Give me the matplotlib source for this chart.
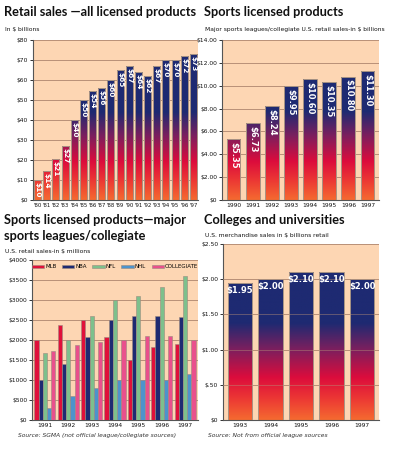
import matplotlib
matplotlib.use("Agg")
import matplotlib.pyplot as plt
import numpy as np
from matplotlib.colors import LinearSegmentedColormap

# retail sales, all licensed products ($ billions)
retail_years = ["'80", "'81", "'82", "'83", "'84", "'85", "'86", "'87", "'88",
                "'89", "'90", "'91", "'92", "'93", "'94", "'95", "'96", "'97"]
retail_values = [10, 14.5, 20.5, 27, 40, 50, 54.5, 56, 60, 65, 67, 64, 62, 67, 70, 70, 72, 73]
retail_labels = ["$10", "$14", "$21", "$27", "$40", "$50", "$54", "$56", "$60",
                 "$65", "$67", "$64", "$62", "$67", "$70", "$70", "$72", "$73"]

# sports licensed products ($ billions)
sports_years = ["1990", "1991", "1992", "1993", "1994", "1995", "1996", "1997"]
sports_values = [5.35, 6.73, 8.24, 9.95, 10.60, 10.35, 10.80, 11.30]
sports_labels = ["$5.35", "$6.73", "$8.24", "$9.95", "$10.60", "$10.35", "$10.80", "$11.30"]

# by league ($ millions)
league_years = ["1991", "1992", "1993", "1994", "1995", "1996", "1997"]
league_names = ["MLB", "NBA", "NFL", "NHL", "COLLEGIATE"]
mlb = [2000, 2380, 2500, 2080, 1490, 1830, 1900]
nba = [1000, 1400, 2080, 2500, 2600, 2600, 2580]
nfl = [1680, 2000, 2600, 3000, 3100, 3320, 3600]
nhl = [300, 600, 800, 1000, 1000, 1000, 1150]
collegiate = [1730, 1870, 1950, 2000, 2100, 2100, 2000]

# colleges and universities ($ billions)
college_years = ["1993", "1994", "1995", "1996", "1997"]
college_values = [1.95, 2.00, 2.10, 2.10, 2.00]
college_labels = ["$1.95", "$2.00", "$2.10", "$2.10", "$2.00"]

W, H = 396, 468
PEACH = "#fdd6b3"
GRID = "#b89078"
TXT = "#111111"
league_colors = ["#e0103a", "#1e2a72", "#7dc08c", "#4d93cc", "#e9508c"]

grad_cmap = LinearSegmentedColormap.from_list("grad", [
    (0.0, "#f56a30"), (0.12, "#ec3834"), (0.24, "#dc0c3c"),
    (0.40, "#7c1f5e"), (0.55, "#1e2a72"), (1.0, "#1e2a72")])

fig = plt.figure(figsize=(W / 100, H / 100), dpi=100)
fig.patch.set_facecolor("white")


def make_ax(left, top, right, bottom):
    ax = fig.add_axes([left / W, (H - bottom) / H, (right - left) / W, (bottom - top) / H])
    ax.set_facecolor(PEACH)
    for s in ["top", "right"]:
        ax.spines[s].set_visible(False)
    for s in ["left", "bottom"]:
        ax.spines[s].set_color("#555555")
        ax.spines[s].set_linewidth(0.8)
    ax.tick_params(axis="both", labelsize=4.3, colors=TXT, length=2, width=0.6, pad=1.5)
    ax.tick_params(axis="x", length=0, pad=2)
    return ax


def grad_bars(ax, x, vals, width, ymax):
    bars = ax.bar(x, vals, width=width, color="none", edgecolor="#a89484", linewidth=0.7, zorder=3)
    grad = np.linspace(0, 1, 256).reshape(-1, 1)
    for b in bars:
        im = ax.imshow(grad, cmap=grad_cmap, origin="lower", aspect="auto",
                       extent=[b.get_x(), b.get_x() + b.get_width(), 0, ymax], zorder=2)
        im.set_clip_path(b)
    return bars


def head(x, y, text, size=9.2):
    fig.text(x / W, 1 - y / H, text, fontsize=size, fontweight="bold", family="Lato",
             color=TXT, va="center", ha="left")


def sub(x, y, text):
    fig.text(x / W, 1 - y / H, text, fontsize=4.3, color=TXT, va="center", ha="left")


# chart 1
ax1 = make_ax(33, 40, 198, 200)
x1 = np.arange(len(retail_values))
grad_bars(ax1, x1, retail_values, 0.78, 80)
ax1.set_xlim(-0.5, len(x1) - 0.5)
ax1.set_ylim(0, 80)
ax1.set_yticks(range(0, 81, 10))
ax1.set_yticklabels(["$%d" % v for v in range(0, 81, 10)])
ax1.set_xticks(x1)
ax1.set_xticklabels(retail_years, fontsize=3.9)
ax1.yaxis.grid(True, color=GRID, linewidth=0.7)
ax1.set_axisbelow(True)
for xi, v, lab in zip(x1, retail_values, retail_labels):
    ax1.text(xi, v - 1, lab, rotation=270, ha="center", va="top", color="white",
             fontsize=5.3, fontweight="bold")
head(4, 12, "Retail sales \u2014all licensed products")
sub(5, 30, "In $ billions")

# chart 2
ax2 = make_ax(222, 40, 379, 200)
x2 = np.arange(len(sports_values))
grad_bars(ax2, x2, sports_values, 0.72, 14)
ax2.set_xlim(-0.6, len(x2) - 0.4)
ax2.set_ylim(0, 14)
ax2.set_yticks(range(0, 15, 2))
ax2.set_yticklabels(["$0"] + ["$%d.00" % v for v in range(2, 15, 2)])
ax2.set_xticks(x2)
ax2.set_xticklabels(sports_years)
ax2.yaxis.grid(True, color=GRID, linewidth=0.7)
ax2.set_axisbelow(True)
for xi, v, lab in zip(x2, sports_values, sports_labels):
    ax2.text(xi, v - 0.25, lab, rotation=270, ha="center", va="top", color="white",
             fontsize=6, fontweight="bold")
head(204, 12, "Sports licensed products")
sub(205, 30, "Major sports leagues/collegiate U.S. retail sales-in $ billions")

# chart 3
ax3 = make_ax(32, 260, 198, 420)
x3 = np.arange(len(league_years))
bw = 0.18
series = [mlb, nba, nfl, nhl, collegiate]
for i, (vals, name, col) in enumerate(zip(series, league_names, league_colors)):
    ax3.bar(x3 + (i - 2) * bw, vals, width=bw, color=col, edgecolor="#9a8a80",
            linewidth=0.4, label=name, zorder=3)
ax3.set_xlim(-0.55, len(x3) - 0.45)
ax3.set_ylim(0, 4000)
ax3.set_yticks(range(0, 4001, 500))
ax3.set_yticklabels(["$%d" % v for v in range(0, 4001, 500)])
ax3.set_xticks(x3)
ax3.set_xticklabels(league_years)
ax3.yaxis.grid(True, color=GRID, linewidth=0.7)
ax3.set_axisbelow(True)
ax3.legend(loc="upper center", ncol=5, frameon=False, fontsize=4, handlelength=2.2,
           handleheight=0.7, handletextpad=0.2, columnspacing=1.0, borderaxespad=0.4)
head(4, 220, "Sports licensed products\u2014major")
head(4, 236, "sports leagues/collegiate")
sub(5, 251, "U.S. retail sales-in $ millions")
fig.text(18 / W, 1 - 435 / H, "Source: SGMA (not official league/collegiate sources)",
         fontsize=4.3, style="italic", color="#333333", va="center")

# chart 4
ax4 = make_ax(223, 244, 379, 420)
x4 = np.arange(len(college_values))
grad_bars(ax4, x4, college_values, 0.8, 2.5)
ax4.set_xlim(-0.55, len(x4) - 0.45)
ax4.set_ylim(0, 2.5)
ax4.set_yticks([0, 0.5, 1.0, 1.5, 2.0, 2.5])
ax4.set_yticklabels(["$0", "$.50", "$1.00", "$1.50", "$2.00", "$2.50"])
ax4.set_xticks(x4)
ax4.set_xticklabels(college_years)
ax4.yaxis.grid(True, color=GRID, linewidth=0.7, zorder=4)
for yv in [0.5, 1.0, 1.5, 2.0]:
    ax4.axhline(yv, color=GRID, linewidth=0.7, alpha=0.45, zorder=4)
ax4.set_axisbelow(True)
for xi, v, lab in zip(x4, college_values, college_labels):
    ax4.text(xi, v - 0.04, lab, ha="center", va="top", color="white",
             fontsize=6, fontweight="bold", zorder=5)
head(204, 220, "Colleges and universities")
sub(205, 235, "U.S. merchandise sales in $ billions retail")
fig.text(208 / W, 1 - 435 / H, "Source: Not from official league sources",
         fontsize=4.3, style="italic", color="#333333", va="center")

fig.savefig("out.png", dpi=100)
